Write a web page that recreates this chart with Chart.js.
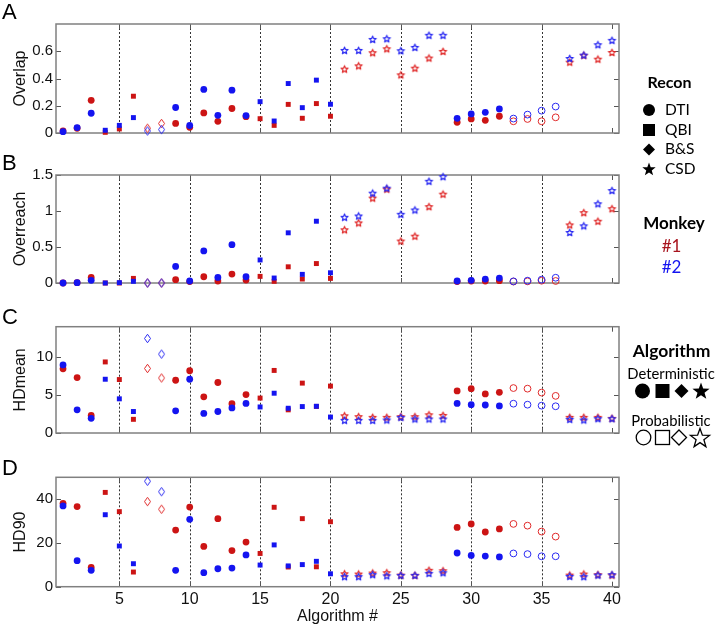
<!DOCTYPE html>
<html><head><meta charset="utf-8">
<script src="https://cdn.jsdelivr.net/npm/chart.js@4.4.0/dist/chart.umd.min.js"></script>
<style>
body{margin:0;background:#fff;width:720px;height:627px;overflow:hidden;position:relative;font-family:"Liberation Sans",Arial,sans-serif}
canvas{position:absolute;left:0}
.letter{position:absolute;left:2px;font-size:22px;line-height:1;color:#000;font-family:"Liberation Sans",Arial,sans-serif}
.leg{position:absolute;font-family:Lato,"Open Sans",sans-serif;color:#000;white-space:nowrap;line-height:1}
</style></head><body>
<canvas id="cA" width="720" height="145" style="top:0"></canvas>
<canvas id="cB" width="720" height="150" style="top:145px"></canvas>
<canvas id="cC" width="720" height="150" style="top:295px"></canvas>
<canvas id="cD" width="720" height="182" style="top:445px"></canvas>
<canvas id="legSym" width="720" height="627" style="top:0"></canvas>
<div class="letter" style="top:1px">A</div>
<div class="letter" style="top:152px">B</div>
<div class="letter" style="top:306px">C</div>
<div class="letter" style="top:457px">D</div>
<div id="legend"></div>
<script>
// ---------- DATA ----------
const algorithms = [1,2,3,4,5,6,7,8,9,10,11,12,13,14,15,16,17,18,19,20,21,22,23,24,25,26,27,28,29,30,31,32,33,34,35,36,37,38,39,40];
const recon = ['DTI','DTI','DTI','QBI','QBI','QBI','B&S','B&S','DTI','DTI','DTI','DTI','DTI','DTI','QBI','QBI','QBI','QBI','QBI','QBI',
  'CSD','CSD','CSD','CSD','CSD','CSD','CSD','CSD','DTI','DTI','DTI','DTI','DTI','DTI','DTI','DTI','CSD','CSD','CSD','CSD'];
const algType = ['D','D','D','D','D','D','P','P','D','D','D','D','D','D','D','D','D','D','D','D',
  'P','P','P','P','P','P','P','P','D','D','D','D','P','P','P','P','P','P','P','P'];

const overlap1 = [0.015,0.035,0.24,0.005,0.03,0.27,0.035,0.07,0.07,0.042,0.147,0.086,0.18,0.12,0.105,0.056,0.21,0.108,0.216,0.123,0.469,0.493,0.589,0.618,0.427,0.476,0.55,0.599,0.079,0.103,0.093,0.123,0.086,0.103,0.086,0.115,0.52,0.57,0.542,0.591];
const overlap2 = [0.01,0.04,0.145,0.02,0.056,0.113,0.015,0.025,0.187,0.055,0.32,0.13,0.314,0.128,0.23,0.088,0.363,0.186,0.388,0.211,0.606,0.606,0.687,0.692,0.604,0.628,0.717,0.717,0.108,0.14,0.152,0.177,0.106,0.135,0.164,0.194,0.547,0.572,0.648,0.68];

const overreach1 = [0,0.005,0.078,0,0,0.064,0,0,0.046,0.02,0.087,0.028,0.124,0.041,0.092,0.023,0.225,0.055,0.27,0.064,0.739,0.835,1.179,1.303,0.583,0.651,1.06,1.234,0.02,0.028,0.028,0.032,0.02,0.023,0.032,0.028,0.807,0.977,0.858,1.032];
const overreach2 = [0,0.005,0.037,0,0.005,0.023,0,0,0.23,0.028,0.445,0.078,0.532,0.087,0.32,0.069,0.697,0.12,0.858,0.142,0.913,0.931,1.248,1.317,0.954,1.014,1.413,1.477,0.028,0.037,0.055,0.069,0.023,0.032,0.046,0.073,0.702,0.794,1.1,1.284];

const hdmean1 = [8.45,7.3,2.32,9.36,7.04,1.8,8.5,7.25,6.95,8.2,4.76,6.65,3.86,5.06,4.6,8.24,3.05,6.57,3.5,6.18,2.27,2.15,2.06,2.06,2.15,2.15,2.4,2.32,5.54,5.84,5.15,5.36,5.92,5.84,5.32,4.89,2.06,2.06,2.06,1.93];
const hdmean2 = [8.97,3.05,1.93,7.08,4.5,2.83,12.45,10.39,2.92,7.08,2.58,2.83,3.3,3.9,3.43,5.24,3.26,3.48,3.52,2.1,1.67,1.67,1.67,1.72,2.06,1.85,1.85,1.85,3.9,3.73,3.69,3.56,3.86,3.73,3.6,3.52,1.8,1.72,1.89,1.89];

const hd90_1 = [38.1,36.6,8.8,43.1,34.3,6.7,38.9,35.4,25.9,36.4,18.4,31.1,16.5,20.4,15.2,36.3,9.0,31.1,9.1,29.7,5.9,5.8,6.25,6.4,5.3,5.2,7.5,7.3,27.1,28.7,25.0,26.4,28.7,27.9,25.2,22.9,5.3,5.8,5.5,5.3];
const hd90_2 = [36.9,11.9,7.5,32.9,18.6,10.5,48.2,43.4,7.5,30.8,6.4,8.2,8.5,14.5,9.9,19.1,9.5,10.1,11.6,5.9,4.6,4.6,5.5,5.0,5.2,5.2,6.1,6.4,15.4,14.3,14.0,13.6,15.2,14.9,13.9,13.9,4.7,4.6,5.3,5.5];

const xTicks = [5,10,15,20,25,30,35,40];
const separators = [5,10,15,20,25,30,35];
const yTicksA = [0,0.2,0.4,0.6];
const yTicksB = [0,0.5,1,1.5];
const yTicksC = [0,5,10];
const yTicksD = [0,20,40];

// ---------- STYLE ----------
const AXFONT = "'Liberation Sans', Arial, Helvetica, sans-serif";
Chart.defaults.font.family = AXFONT;
const RED = '#cc1414', RED_OPEN = '#e02a2a';
const BLUE = '#1414f0', BLUE_OPEN = '#2a2af2';

function starPath(ctx, cx, cy, ro, ri){
  ctx.beginPath();
  for(let k=0;k<10;k++){
    const r = k%2===0 ? ro : ri;
    const a = -Math.PI/2 + k*Math.PI/5;
    const px = cx + r*Math.cos(a), py = cy + r*Math.sin(a);
    if(k===0) ctx.moveTo(px,py); else ctx.lineTo(px,py);
  }
  ctx.closePath();
}
function diamondPath(ctx, cx, cy, w, h){
  ctx.beginPath();
  ctx.moveTo(cx, cy-h/2); ctx.lineTo(cx+w/2, cy); ctx.lineTo(cx, cy+h/2); ctx.lineTo(cx-w/2, cy); ctx.closePath();
}
function makeImg(kind, color){
  const c = document.createElement('canvas');
  c.width = 11; c.height = 11;
  const g = c.getContext('2d');
  g.strokeStyle = color; g.lineJoin = 'round';
  if(kind==='star'){ g.lineWidth = 1.2; starPath(g, 5.5, 5.8, 3.7, 1.6); g.stroke(); }
  else { g.lineWidth = 1; diamondPath(g, 5.5, 5.5, 6, 8.5); g.stroke(); }
  return c;
}
const imgs = {
  starR: makeImg('star', RED_OPEN), starB: makeImg('star', BLUE_OPEN),
  diaR: makeImg('dia', RED_OPEN), diaB: makeImg('dia', BLUE_OPEN)
};

function styleFns(isRed){
  const fill = isRed ? RED : BLUE, open = isRed ? RED_OPEN : BLUE_OPEN;
  return {
    pointStyle: c => {
      const i = c.dataIndex, r = recon[i];
      if(r==='CSD') return isRed ? imgs.starR : imgs.starB;
      if(r==='B&S') return isRed ? imgs.diaR : imgs.diaB;
      if(r==='QBI') return 'rect';
      return 'circle';
    },
    pointRadius: c => recon[c.dataIndex]==='QBI' ? 3.5 : 3.4,
    pointBackgroundColor: c => algType[c.dataIndex]==='D' ? fill : 'rgba(0,0,0,0)',
    pointBorderColor: c => algType[c.dataIndex]==='D' ? fill : open,
    pointBorderWidth: c => algType[c.dataIndex]==='D' ? 0 : 1
  };
}

const framePlugin = {
  id: 'frame',
  beforeDatasetsDraw(chart){
    const {ctx, chartArea: a} = chart;
    const x = chart.scales.x, y = chart.scales.y;
    ctx.save();
    ctx.strokeStyle = '#333'; ctx.lineWidth = 1; ctx.setLineDash([2,2]);
    separators.forEach(v => {
      const px = Math.round(x.getPixelForValue(v)) + 0.5;
      ctx.beginPath(); ctx.moveTo(px, a.top); ctx.lineTo(px, a.bottom); ctx.stroke();
    });
    ctx.setLineDash([]);
    ctx.strokeStyle = '#555'; ctx.lineWidth = 1;
    const tl = 5;
    x.ticks.forEach(t => {
      const px = Math.round(x.getPixelForValue(t.value)) + 0.5;
      ctx.beginPath(); ctx.moveTo(px, a.bottom); ctx.lineTo(px, a.bottom - tl);
      ctx.moveTo(px, a.top); ctx.lineTo(px, a.top + tl); ctx.stroke();
    });
    y.ticks.forEach(t => {
      const py = Math.round(y.getPixelForValue(t.value)) + 0.5;
      ctx.beginPath(); ctx.moveTo(a.left, py); ctx.lineTo(a.left + tl, py);
      ctx.moveTo(a.right, py); ctx.lineTo(a.right - tl, py); ctx.stroke();
    });
    ctx.strokeStyle = '#808080'; ctx.lineWidth = 1.5;
    ctx.strokeRect(a.left, a.top, a.right - a.left, a.bottom - a.top);
    ctx.restore();
  }
};

function makeChart(id, title, v1, v2, ymax, yTicks, padTop, xh, showX){
  return new Chart(document.getElementById(id), {
    type: 'scatter',
    data: { datasets: [
      Object.assign({label:'#2', data: algorithms.map((a,i)=>({x:a, y:v2[i]})), clip:false}, styleFns(false)),
      Object.assign({label:'#1', data: algorithms.map((a,i)=>({x:a, y:v1[i]})), clip:false}, styleFns(true))
    ]},
    options: {
      responsive: false, animation: false, events: [],
      layout: { padding: { top: padTop, left: 0, right: 101, bottom: 0 } },
      plugins: { legend: { display: false }, tooltip: { enabled: false } },
      scales: {
        x: {
          type: 'linear', min: 0.5, max: 40.5,
          grid: { display: false, drawTicks: false }, border: { display: false },
          afterBuildTicks: s => { s.ticks = xTicks.map(v => ({value: v})); },
          afterFit: s => { s.height = xh; },
          ticks: { display: showX, padding: 3, color: '#111', font: { size: 16, family: AXFONT }, maxRotation: 0, autoSkip: false },
          title: { display: showX, text: 'Algorithm #', color: '#111', padding: { top: 0, bottom: 1 }, font: { size: 16, family: AXFONT } }
        },
        y: {
          type: 'linear', min: 0, max: ymax,
          grid: { display: false, drawTicks: false }, border: { display: false },
          afterBuildTicks: s => { s.ticks = yTicks.map(v => ({value: v})); },
          afterFit: s => { s.width = 56; },
          ticks: { padding: 3, color: '#111', font: { size: 15, family: AXFONT }, callback: v => String(v) },
          title: { display: true, text: title, color: '#111', padding: { top: 11, bottom: 0 }, font: { size: 16, family: AXFONT } }
        }
      }
    },
    plugins: [framePlugin]
  });
}

makeChart('cA', 'Overlap', overlap1, overlap2, 0.8, yTicksA, 24, 12, false);
makeChart('cB', 'Overreach', overreach1, overreach2, 1.5, yTicksB, 30, 11, false);
makeChart('cC', 'HDmean', hdmean1, hdmean2, 14, yTicksC, 31.7, 10, false);
makeChart('cD', 'HD90', hd90_1, hd90_2, 50, yTicksD, 32.3, 40.3, true);

// ---------- LEGEND ----------
const legend = document.getElementById('legend');
function lbl(text, x, cy, size, bold, color, center){
  const d = document.createElement('div');
  d.className = 'leg';
  d.textContent = text;
  d.style.fontSize = size + 'px';
  d.style.fontWeight = bold ? '700' : '400';
  d.style.color = color || '#000';
  d.style.top = (cy - 0.527*size) + 'px';
  if(center){ d.style.left = (x - 100) + 'px'; d.style.width = '200px'; d.style.textAlign = 'center'; }
  else d.style.left = x + 'px';
  legend.appendChild(d);
}
lbl('Recon', 669.5, 82.5, 16, true, '#000', true);
lbl('DTI', 665, 110, 15.5);
lbl('QBI', 665, 130, 15.5);
lbl('B&S', 665, 149.5, 15.5);
lbl('CSD', 665, 169, 15.5);
lbl('Monkey', 674, 222.5, 17, true, '#000', true);
lbl('#1', 671.5, 246, 17, false, '#a8141e', true);
lbl('#2', 671.5, 266.5, 17, false, '#1414f0', true);
lbl('Algorithm', 671.5, 351, 17.5, true, '#000', true);
lbl('Deterministic', 671, 374, 14.8, false, '#000', true);
lbl('Probabilistic', 671, 421, 14.8, false, '#000', true);

const lg = document.getElementById('legSym').getContext('2d');
lg.fillStyle = '#000'; lg.strokeStyle = '#000'; lg.lineWidth = 1.3;
// recon symbols
lg.beginPath(); lg.arc(649, 110, 6, 0, Math.PI*2); lg.fill();
lg.fillRect(643, 124, 12, 12);
diamondPath(lg, 649, 149.5, 12, 12); lg.fill();
starPath(lg, 649, 169.5, 7, 2.9); lg.fill();
// deterministic
lg.beginPath(); lg.arc(642.5, 391, 7.5, 0, Math.PI*2); lg.fill();
lg.fillRect(655.5, 384, 14, 14);
diamondPath(lg, 681.5, 391, 14, 14); lg.fill();
starPath(lg, 701, 391.5, 9, 3.7); lg.fill();
// probabilistic
lg.beginPath(); lg.arc(643.5, 437.5, 7.3, 0, Math.PI*2); lg.stroke();
lg.strokeRect(655.5, 430.5, 14, 14);
diamondPath(lg, 679, 437.5, 15, 15); lg.stroke();
starPath(lg, 700, 438.5, 10, 4.1); lg.stroke();
</script>
</body></html>
